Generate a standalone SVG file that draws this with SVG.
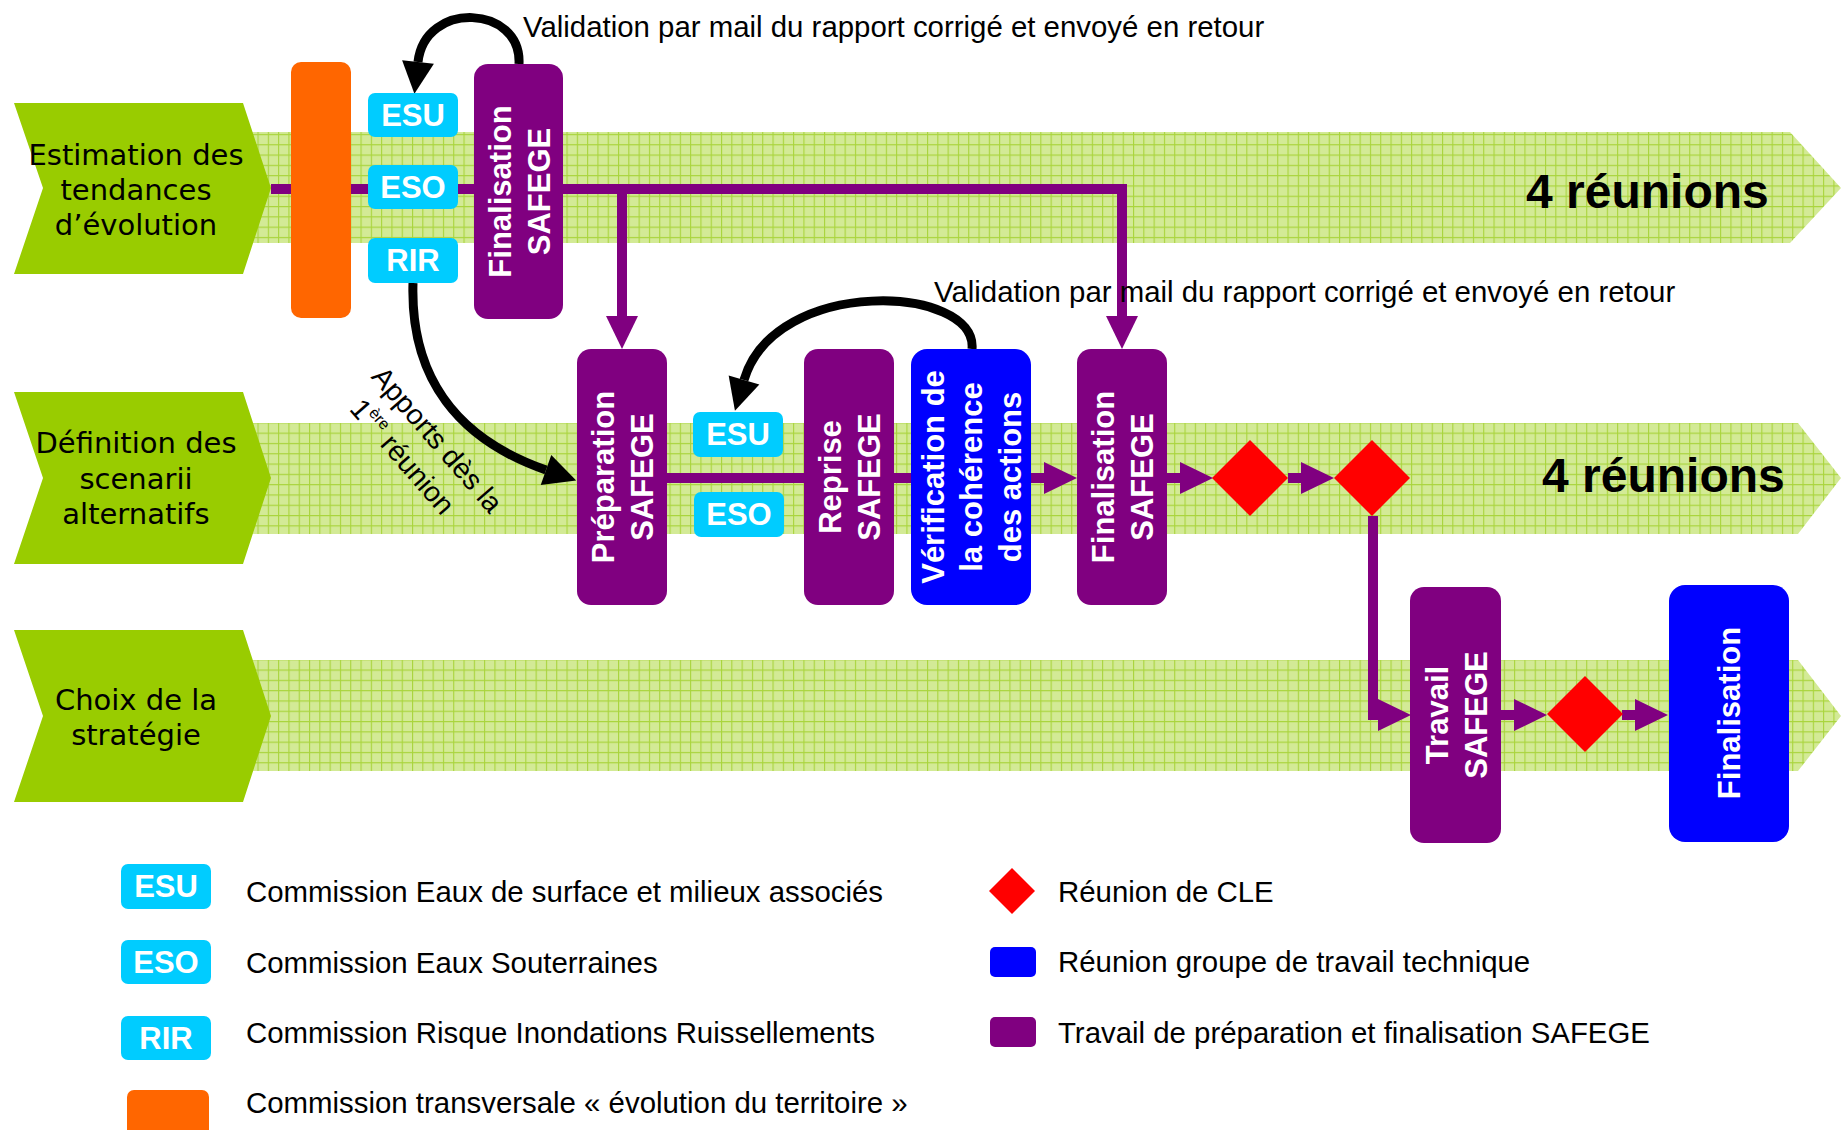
<svg xmlns="http://www.w3.org/2000/svg" width="1842" height="1130" viewBox="0 0 1842 1130">
<defs>
<pattern id="grid" patternUnits="userSpaceOnUse" width="10.3" height="10.3">
<rect width="10.3" height="10.3" fill="#D3EA96"/>
<path d="M0.5 0V10.3M0 0.5H10.3" stroke="#A9D43C" stroke-width="1.2" fill="none"/>
</pattern>
<marker id="pa" markerUnits="userSpaceOnUse" markerWidth="40" markerHeight="40" viewBox="0 -20 40 40" refX="0" refY="0" orient="auto" overflow="visible">
<path d="M0,-16 L33,0 L0,16 z" fill="#800080"/>
</marker>
<marker id="ba" markerUnits="userSpaceOnUse" markerWidth="40" markerHeight="40" viewBox="0 -20 40 40" refX="0" refY="0" orient="auto" overflow="visible">
<path d="M0,-16 L32,0 L0,16 z" fill="#000"/>
</marker>
<style>
.chev{fill:#99CC00}
.band{fill:url(#grid)}
.ct{font-family:"DejaVu Sans",sans-serif;font-size:29px;fill:#000;text-anchor:middle}
.pur{fill:#800080}
.blu{fill:#0000FF}
.cy{fill:#00CCFF}
.or{fill:#FF6600}
.dia{fill:#FF0000}
.wt{font-family:"Liberation Sans",Arial,sans-serif;font-weight:bold;font-size:31px;fill:#fff;text-anchor:middle}
.lt{font-family:"Liberation Sans",Arial,sans-serif;font-size:29.4px;fill:#000}
.big{font-family:"Liberation Sans",Arial,sans-serif;font-weight:bold;font-size:48px;fill:#000}
.pl{fill:none;stroke:#800080;stroke-width:10}
.bl{fill:none;stroke:#000;stroke-width:9}
</style>
</defs>
<rect width="1842" height="1130" fill="#fff"/>

<g id="bands">
<polygon class="band" points="240,132 1790,132 1841,188 1790,243 240,243"/>
<polygon class="band" points="240,423 1798,423 1841,478 1798,534 240,534"/>
<polygon class="band" points="240,660 1798,660 1841,716 1798,771 240,771"/>
<text class="big" x="1526" y="208">4 réunions</text>
<text class="big" x="1542" y="492">4 réunions</text>
</g>

<g id="phase1">
<polygon class="chev" points="14,103 243,103 271,188 243,274 14,274 43,188"/>
<text class="ct" x="136" y="165">Estimation des</text>
<text class="ct" x="136" y="200">tendances</text>
<text class="ct" x="136" y="235">d’évolution</text>
</g>
<g id="phase2">
<polygon class="chev" points="14,392 243,392 271,478 243,564 14,564 43,478"/>
<text class="ct" x="136" y="453">Définition des</text>
<text class="ct" x="136" y="489">scenarii</text>
<text class="ct" x="136" y="524">alternatifs</text>
</g>
<g id="phase3">
<polygon class="chev" points="14,630 243,630 271,716 243,802 14,802 43,716"/>
<text class="ct" x="136" y="710">Choix de la</text>
<text class="ct" x="136" y="745">stratégie</text>
</g>

<g id="connectors">
<path class="pl" d="M271 189 H1122 V316" marker-end="url(#pa)"/>
<path class="pl" d="M622 189 V316" marker-end="url(#pa)"/>
<path class="pl" d="M667 478 H1044" marker-end="url(#pa)"/>
<path class="pl" d="M1167 478 H1180" marker-end="url(#pa)"/>
<path class="pl" d="M1288 478 H1301" marker-end="url(#pa)"/>
<path class="pl" d="M1373 516 V715 H1378" marker-end="url(#pa)"/>
<path class="pl" d="M1501 715 H1514" marker-end="url(#pa)"/>
<path class="pl" d="M1622 715 H1635" marker-end="url(#pa)"/>
<path class="bl" d="M519 64 C522 5 425 0 418 62" marker-end="url(#ba)"/>
<path class="bl" d="M413 283 C410 380 460 440 546 470" marker-end="url(#ba)"/>
<path class="bl" d="M972 349 C978 285 775 275 744 380" marker-end="url(#ba)"/>
<text class="lt" x="523" y="37">Validation par mail du rapport corrigé et envoyé en retour</text>
<text class="lt" x="934" y="302">Validation par mail du rapport corrigé et envoyé en retour</text>
<text class="lt" style="font-size:28.5px" text-anchor="middle" transform="translate(430,446) rotate(49)">Apports dès la</text>
<text class="lt" style="font-size:28.5px" text-anchor="middle" transform="translate(395,463) rotate(49)">1<tspan font-size="16" dy="-12">ère</tspan><tspan dy="12"> réunion</tspan></text>
</g>

<g id="ct-orange"><rect class="or" x="291" y="62" width="60" height="256" rx="10"/></g>
<g id="esu1"><rect class="cy" x="368" y="93" width="90" height="44" rx="7"/><text class="wt" x="413" y="126">ESU</text></g>
<g id="eso1"><rect class="cy" x="368" y="165" width="90" height="44" rx="7"/><text class="wt" x="413" y="198">ESO</text></g>
<g id="rir1"><rect class="cy" x="368" y="238" width="90" height="45" rx="7"/><text class="wt" x="413" y="271">RIR</text></g>
<g id="final1"><rect class="pur" x="474" y="64" width="89" height="255" rx="14"/>
<g transform="translate(518.5,191.5) rotate(-90)"><text class="wt" y="-8">Finalisation</text><text class="wt" y="31">SAFEGE</text></g></g>

<g id="prep"><rect class="pur" x="577" y="349" width="90" height="256" rx="14"/>
<g transform="translate(622,477) rotate(-90)"><text class="wt" y="-8">Préparation</text><text class="wt" y="31">SAFEGE</text></g></g>
<g id="esu2"><rect class="cy" x="693" y="412" width="90" height="45" rx="7"/><text class="wt" x="738" y="445">ESU</text></g>
<g id="eso2"><rect class="cy" x="694" y="492" width="90" height="45" rx="7"/><text class="wt" x="739" y="525">ESO</text></g>
<g id="reprise"><rect class="pur" x="804" y="349" width="90" height="256" rx="14"/>
<g transform="translate(849,477) rotate(-90)"><text class="wt" y="-8">Reprise</text><text class="wt" y="31">SAFEGE</text></g></g>
<g id="verif"><rect class="blu" x="911" y="349" width="120" height="256" rx="16"/>
<g transform="translate(971,477) rotate(-90)"><text class="wt" y="-27">Vérification de</text><text class="wt" y="11">la cohérence</text><text class="wt" y="50">des actions</text></g></g>
<g id="final2"><rect class="pur" x="1077" y="349" width="90" height="256" rx="14"/>
<g transform="translate(1122,477) rotate(-90)"><text class="wt" y="-8">Finalisation</text><text class="wt" y="31">SAFEGE</text></g></g>
<g id="cle1"><polygon class="dia" points="1250,440 1288,478 1250,516 1212,478"/></g>
<g id="cle2"><polygon class="dia" points="1372,440 1410,478 1372,516 1334,478"/></g>

<g id="travail"><rect class="pur" x="1410" y="587" width="91" height="256" rx="14"/>
<g transform="translate(1455.5,715) rotate(-90)"><text class="wt" y="-8">Travail</text><text class="wt" y="31">SAFEGE</text></g></g>
<g id="cle3"><polygon class="dia" points="1585,676 1623,714 1585,752 1547,714"/></g>
<g id="final3"><rect class="blu" x="1669" y="585" width="120" height="257" rx="16"/>
<g transform="translate(1729,713) rotate(-90)"><text class="wt" y="11">Finalisation</text></g></g>

<g id="legend">
<rect class="cy" x="121" y="864" width="90" height="45" rx="7"/><text class="wt" x="166" y="897">ESU</text>
<text class="lt" x="246" y="902">Commission Eaux de surface et milieux associés</text>
<rect class="cy" x="121" y="940" width="90" height="44" rx="7"/><text class="wt" x="166" y="973">ESO</text>
<text class="lt" x="246" y="973">Commission Eaux Souterraines</text>
<rect class="cy" x="121" y="1016" width="90" height="44" rx="7"/><text class="wt" x="166" y="1049">RIR</text>
<text class="lt" x="246" y="1043">Commission Risque Inondations Ruissellements</text>
<rect class="or" x="127" y="1090" width="82" height="60" rx="7"/>
<text class="lt" x="246" y="1113">Commission transversale « évolution du territoire »</text>
<polygon class="dia" points="1012,868 1035,891 1012,914 989,891"/>
<text class="lt" x="1058" y="902">Réunion de CLE</text>
<rect class="blu" x="990" y="947" width="46" height="30" rx="5"/>
<text class="lt" x="1058" y="972">Réunion groupe de travail technique</text>
<rect class="pur" x="990" y="1017" width="46" height="30" rx="5"/>
<text class="lt" x="1058" y="1043">Travail de préparation et finalisation SAFEGE</text>
</g>
</svg>
